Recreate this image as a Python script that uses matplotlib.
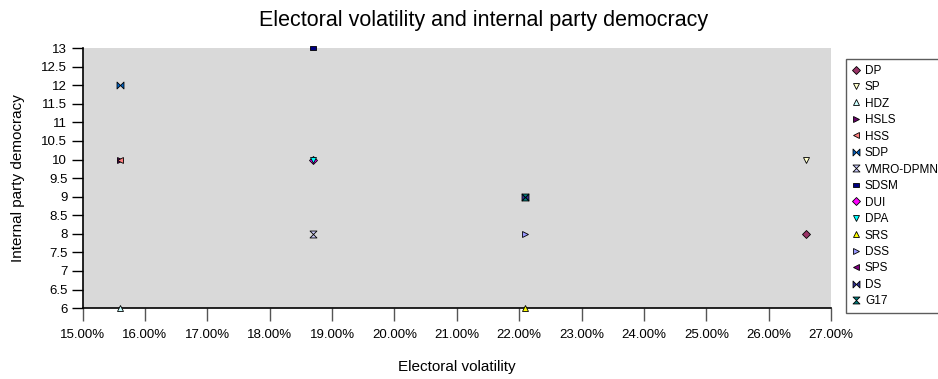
import numpy as np
import matplotlib
matplotlib.use("Agg")
import matplotlib.pyplot as plt
import matplotlib.ticker as mticker
from matplotlib.path import Path

plt.rcParams['font.family'] = ['Liberation Sans', 'DejaVu Sans']

# --- Data (volatility in %, internal party democracy score) ---
parties = ["DP", "SP", "HDZ", "HSLS", "HSS", "SDP", "VMRO-DPMNE", "SDSM",
           "DUI", "DPA", "SRS", "DSS", "SPS", "DS", "G17"]
volatility = [26.6, 26.6, 15.6, 15.6, 15.6, 15.6, 18.7, 18.7,
              18.7, 18.7, 22.1, 22.1, 22.1, 22.1, 22.1]
democracy = [8, 10, 6, 10, 10, 12, 8, 13,
             10, 10, 6, 8, 9, 9, 9]

# --- Marker shapes / colours (spreadsheet style) ---
bowtie = Path([(-1, -1), (1, 1), (1, -1), (-1, 1), (-1, -1)],
              [Path.MOVETO, Path.LINETO, Path.LINETO, Path.LINETO, Path.CLOSEPOLY])
hourglass = Path([(-1, 1), (1, 1), (-1, -1), (1, -1), (-1, 1)],
                 [Path.MOVETO, Path.LINETO, Path.LINETO, Path.LINETO, Path.CLOSEPOLY])
rect = Path([(-1, -0.6), (1, -0.6), (1, 0.6), (-1, 0.6), (-1, -0.6)],
            [Path.MOVETO, Path.LINETO, Path.LINETO, Path.LINETO, Path.CLOSEPOLY])

markers = ["D", "v", "^", ">", "<", bowtie, hourglass, rect,
           "D", "v", "^", ">", "<", bowtie, hourglass]
colors = ["#993366", "#FFFFCC", "#CCFFFF", "#660066", "#FF8080", "#0066CC",
          "#CCCCFF", "#000080", "#FF00FF", "#00FFFF", "#FFFF00", "#9999FF",
          "#800080", "#333399", "#008080"]

fig = plt.figure(figsize=(9.38, 3.79), dpi=100)
ax = fig.add_axes([0.088, 0.187, 0.798, 0.686])
ax.set_facecolor("#D9D9D9")

for name, x, y, m, c in zip(parties, volatility, democracy, markers, colors):
    ms = 4.5 if m in ("D",) else 5
    ax.plot([x], [y], linestyle="none", marker=m, markersize=ms,
            markerfacecolor=c, markeredgecolor="black", markeredgewidth=0.6,
            label=name, clip_on=False, zorder=5)

ax.set_xlim(15, 27)
ax.set_ylim(6, 13)
ax.xaxis.set_major_locator(mticker.MultipleLocator(1))
ax.yaxis.set_major_locator(mticker.MultipleLocator(0.5))
ax.xaxis.set_major_formatter(mticker.FuncFormatter(lambda v, _: f"{v:.2f}%"))
ax.yaxis.set_major_formatter(mticker.FuncFormatter(lambda v, _: f"{v:g}"))

for s in ["top", "right"]:
    ax.spines[s].set_visible(False)
ax.spines["left"].set_linewidth(1.2)
ax.spines["bottom"].set_linewidth(1.2)
ax.tick_params(axis="x", direction="out", length=9, width=1, color="#555555",
               labelsize=9.5, pad=6)
ax.tick_params(axis="y", direction="out", length=8, width=1, labelsize=9.5, pad=3)

ax.set_xlabel("Electoral volatility", fontsize=11, labelpad=14)
ax.set_ylabel("Internal party democracy", fontsize=11, labelpad=12)
fig.text(0.516, 0.945, "Electoral volatility and internal party democracy",
         ha="center", va="center", fontsize=15.5)

leg = ax.legend(loc="upper left", bbox_to_anchor=(0.902, 0.845),
                bbox_transform=fig.transFigure, fontsize=8.5, frameon=True,
                fancybox=False, edgecolor="#333333", handlelength=0.6,
                handletextpad=0.5, labelspacing=0.38, borderpad=0.5,
                borderaxespad=0, markerscale=1.0)
leg.get_frame().set_linewidth(1.0)
leg.get_frame().set_facecolor("white")

fig.savefig("out.png", dpi=100)
